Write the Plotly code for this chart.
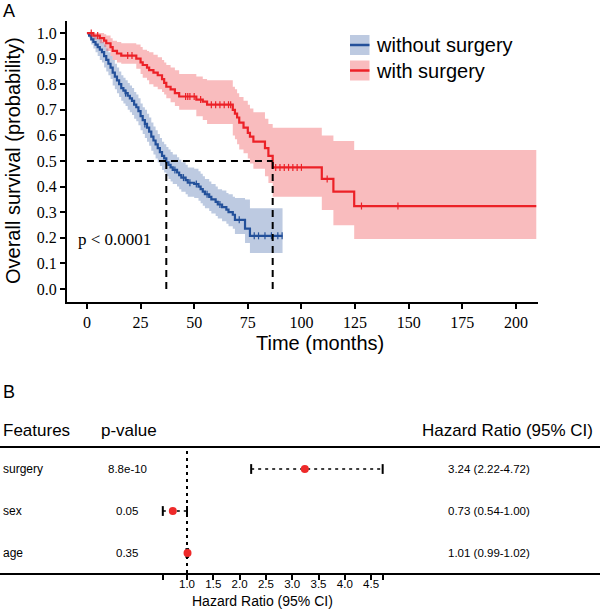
import plotly.graph_objects as go

W, H = 600, 609
def fx(px):
    return px / W
def fy(py):
    return 1 - py / H

# ---------------- Panel A data (Kaplan-Meier) ----------------
time_wo = [0,1,2,3,4,5,6,7,8,9,10,11,12,13,14,15,16,17,18,19,20,21,22,23,24,25,26,27,28,29,30,
           31,32,33,34,35,36,37,38,39,40,42,43,44,46,47,50,52,53,54,55,57,58,60,61,63,65,66,68,69,73.7,76,91.2]
surv_wo = [1.00,0.99,0.975,0.965,0.955,0.945,0.935,0.925,0.91,0.895,0.88,0.865,0.845,0.83,0.815,0.80,
           0.785,0.775,0.765,0.755,0.745,0.735,0.72,0.71,0.695,0.675,0.66,0.645,0.63,0.615,0.595,0.58,
           0.565,0.55,0.535,0.52,0.51,0.495,0.485,0.475,0.465,0.455,0.445,0.435,0.425,0.415,0.41,0.40,
           0.39,0.38,0.37,0.36,0.35,0.34,0.33,0.32,0.31,0.30,0.29,0.27,0.236,0.2075,0.2075]
upper_wo = [1.00,1.00,0.995,0.99,0.985,0.98,0.975,0.965,0.955,0.94,0.925,0.91,0.895,0.88,0.865,0.85,
            0.835,0.825,0.815,0.805,0.795,0.785,0.77,0.76,0.745,0.725,0.71,0.70,0.685,0.67,0.65,0.635,
            0.62,0.605,0.59,0.575,0.565,0.555,0.545,0.535,0.525,0.515,0.505,0.495,0.485,0.475,0.47,0.46,
            0.45,0.44,0.43,0.42,0.41,0.40,0.39,0.385,0.375,0.37,0.36,0.355,0.35,0.315,0.315]
lower_wo = [1.00,0.98,0.955,0.94,0.925,0.91,0.895,0.885,0.865,0.85,0.835,0.82,0.795,0.78,0.765,0.75,
            0.735,0.725,0.715,0.70,0.69,0.68,0.665,0.655,0.64,0.62,0.605,0.59,0.575,0.56,0.54,0.525,
            0.51,0.495,0.48,0.465,0.455,0.44,0.43,0.42,0.41,0.40,0.39,0.38,0.37,0.36,0.355,0.345,
            0.335,0.325,0.315,0.305,0.295,0.285,0.275,0.265,0.255,0.245,0.235,0.215,0.18,0.14,0.14]
censor_wo = [18, 27, 41, 45, 48, 51, 56, 62, 71, 78, 80, 83, 86, 89, 91]

time_w = [0,3,6,8,9,11,12,14,16,23,25,26,28,29,31,33,35,36,37,39,41,43,51,54,56,68,69,70,71,73,
          75,76,77.6,83,84.6,86.6,109.5,114.9,124.6,209.5]
surv_w = [1.0,0.99,0.98,0.97,0.96,0.945,0.93,0.92,0.912,0.90,0.885,0.875,0.865,0.855,0.845,0.835,
          0.82,0.805,0.79,0.78,0.765,0.752,0.74,0.732,0.72,0.70,0.685,0.67,0.65,0.63,0.61,0.595,
          0.576,0.55,0.52,0.475,0.43,0.38,0.324,0.324]
upper_w = [1.0,1.0,1.0,0.995,0.99,0.98,0.97,0.965,0.96,0.955,0.945,0.935,0.93,0.925,0.915,0.905,
           0.895,0.885,0.875,0.865,0.855,0.84,0.83,0.82,0.815,0.79,0.78,0.765,0.75,0.735,0.72,0.705,
           0.69,0.665,0.645,0.63,0.60,0.578,0.543,0.543]
lower_w = [1.0,0.975,0.96,0.945,0.93,0.91,0.895,0.885,0.88,0.86,0.84,0.825,0.815,0.80,0.79,0.78,
           0.77,0.76,0.745,0.73,0.715,0.70,0.675,0.66,0.645,0.60,0.585,0.565,0.545,0.53,0.51,0.49,
           0.47,0.44,0.414,0.36,0.308,0.249,0.195,0.195]
censor_w = [2, 5, 19, 21, 46, 47, 48, 50, 53, 58, 60, 62, 64, 66, 67, 88, 90, 92, 94, 96, 98, 100, 112, 128, 145]

group_names = ["without surgery", "with surgery"]
line_colors = ["#23509A", "#EC2127"]
band_colors = ["rgba(35,80,154,0.30)", "rgba(236,33,39,0.30)"]

x_ticks = [0, 25, 50, 75, 100, 125, 150, 175, 200]
y_ticks = [0.0, 0.1, 0.2, 0.3, 0.4, 0.5, 0.6, 0.7, 0.8, 0.9, 1.0]
y_tick_text = ["0.0", "0.1", "0.2", "0.3", "0.4", "0.5", "0.6", "0.7", "0.8", "0.9", "1.0"]
p_text = "p < 0.0001"

# ---------------- Panel B data (forest plot) ----------------
features = ["surgery", "sex", "age"]
p_values = ["8.8e-10", "0.05", "0.35"]
hr = [3.24, 0.73, 1.01]
hr_low = [2.22, 0.54, 0.99]
hr_high = [4.72, 1.00, 1.02]
hr_ticks = [0.54, 1.0, 1.5, 2.0, 2.5, 3.0, 3.5, 4.0, 4.5, 4.72]
hr_tick_text = ["", "1.0", "1.5", "2.0", "2.5", "3.0", "3.5", "4.0", "4.5", ""]


def step_value(t, times, surv):
    v = surv[0]
    for ti, si in zip(times, surv):
        if ti <= t:
            v = si
    return v


def median_time(times, surv):
    for ti, si in zip(times, surv):
        if si <= 0.5:
            return ti
    return None


fig = go.Figure()

groups = [
    (time_wo, surv_wo, upper_wo, lower_wo, censor_wo),
    (time_w, surv_w, upper_w, lower_w, censor_w),
]

for gi, (t, s, up, lo, cen) in enumerate(groups):
    fig.add_trace(go.Scatter(x=t, y=lo, mode="lines", line=dict(width=0, shape="hv"),
                             hoverinfo="skip", showlegend=False))
    fig.add_trace(go.Scatter(x=t, y=up, mode="lines", line=dict(width=0, shape="hv"),
                             fill="tonexty", fillcolor=band_colors[gi],
                             hoverinfo="skip", showlegend=False))

for gi, (t, s, up, lo, cen) in enumerate(groups):
    fig.add_trace(go.Scatter(x=t, y=s, mode="lines", name=group_names[gi],
                             line=dict(color=line_colors[gi], width=2.2, shape="hv"),
                             showlegend=False))
    fig.add_trace(go.Scatter(x=cen, y=[step_value(c, t, s) for c in cen], mode="markers",
                             marker=dict(symbol="line-ns", size=5,
                                         line=dict(color=line_colors[gi], width=1.2)),
                             showlegend=False, hoverinfo="skip"))

# median dashed lines
shapes = []
medians = [median_time(time_wo, surv_wo), median_time(time_w, surv_w)]
dash_style = dict(color="black", width=2, dash="7px,5px")
shapes.append(dict(type="line", xref="x", yref="y", x0=0, x1=max(medians), y0=0.5, y1=0.5,
                   line=dash_style))
for m in medians:
    shapes.append(dict(type="line", xref="x", yref="y", x0=m, x1=m, y0=0, y1=0.5, line=dash_style))

# legend (manual)
leg_y = [45, 70.5]
for gi in range(2):
    shapes.append(dict(type="rect", xref="paper", yref="paper",
                       x0=fx(350), x1=fx(369.5), y0=fy(leg_y[gi] + 10), y1=fy(leg_y[gi] - 10),
                       fillcolor=band_colors[gi], line=dict(width=0)))
    shapes.append(dict(type="line", xref="paper", yref="paper",
                       x0=fx(350), x1=fx(369.5), y0=fy(leg_y[gi]), y1=fy(leg_y[gi]),
                       line=dict(color=line_colors[gi], width=2.5)))

# ---------------- Forest plot traces ----------------
rows = list(range(len(features), 0, -1))
ci_x, ci_y = [], []
for r, a, b in zip(rows, hr_low, hr_high):
    ci_x += [a, b, None]
    ci_y += [r, r, None]
fig.add_trace(go.Scatter(x=ci_x, y=ci_y, mode="lines", xaxis="x2", yaxis="y2",
                         line=dict(color="black", width=1.5, dash="3px,4px"),
                         showlegend=False, hoverinfo="skip"))
fig.add_trace(go.Scatter(x=hr_low + hr_high, y=rows + rows, mode="markers", xaxis="x2", yaxis="y2",
                         marker=dict(symbol="line-ns", size=7, line=dict(color="black", width=2)),
                         showlegend=False, hoverinfo="skip"))
fig.add_trace(go.Scatter(x=hr, y=rows, mode="markers", xaxis="x2", yaxis="y2",
                         marker=dict(symbol="circle", size=8, color="#EE2A2A"),
                         showlegend=False))

shapes.append(dict(type="line", xref="x2", yref="paper", x0=1, x1=1, y0=fy(573), y1=fy(447),
                   line=dict(color="black", width=2, dash="3px,4px"), layer="below"))
shapes.append(dict(type="line", xref="paper", yref="paper", x0=0, x1=1, y0=fy(447), y1=fy(447),
                   line=dict(color="black", width=2)))

SANS = "Liberation Sans, Arial, sans-serif"
SERIF = "Liberation Serif, Times New Roman, serif"

ann = []
ann.append(dict(text="A", x=fx(1), y=fy(11), xref="paper", yref="paper", xanchor="left",
                yanchor="middle", showarrow=False, font=dict(family=SANS, size=18, color="black")))
ann.append(dict(text="Overall survival (probability)", x=fx(13), y=fy(161), xref="paper", yref="paper",
                textangle=-90, xanchor="center", yanchor="middle", showarrow=False,
                font=dict(family=SANS, size=20, color="black")))
ann.append(dict(text="Time (months)", x=fx(320), y=fy(343), xref="paper", yref="paper",
                xanchor="center", yanchor="middle", showarrow=False,
                font=dict(family=SANS, size=20, color="black")))
ann.append(dict(text=p_text, x=fx(114), y=fy(239), xref="paper", yref="paper",
                xanchor="center", yanchor="middle", showarrow=False,
                font=dict(family=SERIF, size=17, color="black")))
for gi in range(2):
    ann.append(dict(text=group_names[gi], x=fx(374), y=fy(leg_y[gi]), xref="paper", yref="paper",
                    xanchor="left", yanchor="middle", showarrow=False,
                    font=dict(family=SANS, size=20, color="black")))

ann.append(dict(text="B", x=fx(1), y=fy(392), xref="paper", yref="paper", xanchor="left",
                yanchor="middle", showarrow=False, font=dict(family=SANS, size=18, color="black")))
ann.append(dict(text="Features", x=fx(1), y=fy(430), xref="paper", yref="paper", xanchor="left",
                yanchor="middle", showarrow=False, font=dict(family=SANS, size=17, color="black")))
ann.append(dict(text="p-value", x=fx(129), y=fy(430), xref="paper", yref="paper", xanchor="center",
                yanchor="middle", showarrow=False, font=dict(family=SANS, size=17, color="black")))
ann.append(dict(text="Hazard Ratio (95% CI)", x=fx(507), y=fy(430), xref="paper", yref="paper",
                xanchor="center", yanchor="middle", showarrow=False,
                font=dict(family=SANS, size=17, color="black")))
for r, f, p, h, a, b in zip(rows, features, p_values, hr, hr_low, hr_high):
    ann.append(dict(text=f, x=fx(1), y=r, xref="paper", yref="y2", xanchor="left", yanchor="middle",
                    showarrow=False, font=dict(family=SANS, size=12, color="black")))
    ann.append(dict(text=p, x=fx(127), y=r, xref="paper", yref="y2", xanchor="center",
                    yanchor="middle", showarrow=False, font=dict(family=SANS, size=11.5, color="black")))
    ann.append(dict(text=f"{h:.2f} ({a:.2f}-{b:.2f})", x=fx(489), y=r, xref="paper", yref="y2",
                    xanchor="center", yanchor="middle", showarrow=False,
                    font=dict(family=SANS, size=11.5, color="black")))
ann.append(dict(text="Hazard Ratio (95% CI)", x=fx(262), y=fy(601), xref="paper", yref="paper",
                xanchor="center", yanchor="middle", showarrow=False,
                font=dict(family=SANS, size=14, color="black")))

# HR axis mapping: 1.0 at x=187px, 52.6 px per unit, axis spans full width
hr_px1, hr_scale = 187, 52.6
hr_range = [1 - hr_px1 / hr_scale, 1 + (W - hr_px1) / hr_scale]

fig.update_layout(
    width=W, height=H,
    margin=dict(l=0, r=0, t=0, b=0),
    paper_bgcolor="white", plot_bgcolor="white",
    showlegend=False,
    shapes=shapes,
    annotations=ann,
    xaxis=dict(domain=[fx(67), fx(538)], range=[-9.3, 210.3], tickvals=x_ticks,
               ticks="outside", ticklen=5, tickwidth=1.5, tickcolor="black",
               showline=True, linewidth=2, linecolor="black", showgrid=False, zeroline=False,
               tickfont=dict(family=SERIF, size=16, color="black"), anchor="y"),
    yaxis=dict(domain=[fy(302), fy(21)], range=[-0.051, 1.047], tickvals=y_ticks, ticktext=y_tick_text,
               ticks="outside", ticklen=5, tickwidth=1.5, tickcolor="black",
               showline=True, linewidth=2, linecolor="black", showgrid=False, zeroline=False,
               tickfont=dict(family=SERIF, size=16, color="black"), anchor="x"),
    xaxis2=dict(domain=[0, 1], range=hr_range, tickvals=hr_ticks, ticktext=hr_tick_text,
                ticks="outside", ticklen=5, tickwidth=1.5, tickcolor="black",
                showline=True, linewidth=2, linecolor="black", showgrid=False, zeroline=False,
                ticklabelstandoff=-6,
                tickfont=dict(family=SANS, size=11.5, color="black"), anchor="y2"),
    yaxis2=dict(domain=[fy(573), fy(447)], range=[0.524, 3.524], visible=False, anchor="x2"),
)

fig.write_html("out.html", config={"displayModeBar": False},
               post_script="document.body.style.margin='0';document.body.style.overflow='hidden';")
